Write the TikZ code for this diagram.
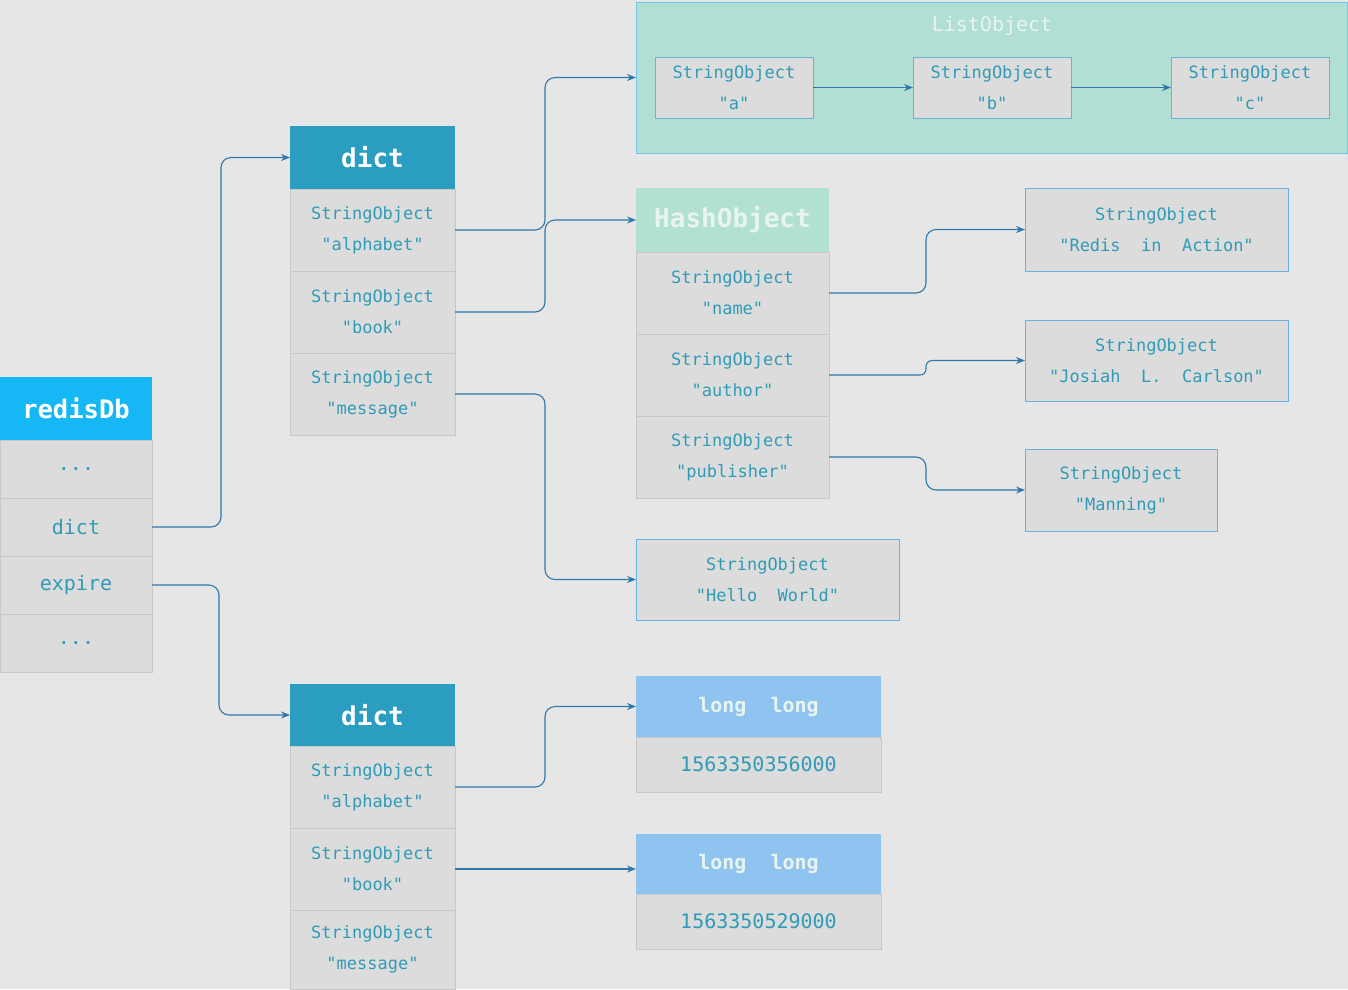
\documentclass[tikz,border=0pt]{standalone}
\usepackage{fontspec}
\newfontfamily\monof{DejaVu Sans Mono}
\usetikzlibrary{positioning,arrows.meta}
\definecolor{bgc}{RGB}{230,230,230}
\definecolor{cellfill}{RGB}{220,220,220}
\definecolor{cellline}{RGB}{200,200,200}
\definecolor{objline}{RGB}{104,178,226}
\definecolor{ink}{RGB}{48,155,182}
\definecolor{linkc}{RGB}{47,120,170}
\definecolor{dbhead}{RGB}{22,183,245}
\definecolor{dicthead}{RGB}{42,157,192}
\definecolor{hashhead}{RGB}{178,225,211}
\definecolor{listfill}{RGB}{178,223,212}
\definecolor{listline}{RGB}{112,200,228}
\definecolor{longhead}{RGB}{143,196,240}
\definecolor{paleink}{RGB}{232,244,240}

\begin{document}
\begin{tikzpicture}[x=1pt, y=-1pt,
		cell/.style={rectangle, draw=cellline, line width=0.8pt, fill=cellfill, text=ink, inner sep=0pt, outer sep=0pt, minimum width=165pt, minimum height=82pt, align=center, font=\monof\fontsize{17}{31}\selectfont},
		dbcell/.style={cell, minimum width=152pt, minimum height=58pt, font=\monof\fontsize{20}{24}\selectfont},
		header/.style={rectangle, draw=none, text=white, inner sep=0pt, outer sep=0pt, minimum width=165pt, minimum height=63pt, font=\monof\bfseries\fontsize{26}{30}\selectfont},
		sobj/.style={cell, draw=objline, minimum width=263pt, minimum height=82pt},
		longhdr/.style={header, fill=longhead, text=paleink, minimum width=245pt, minimum height=61pt, font=\monof\bfseries\fontsize{20}{24}\selectfont},
		longval/.style={cell, minimum width=245pt, minimum height=55pt, font=\monof\fontsize{20}{24}\selectfont},
		link/.style={draw=linkc, line width=1.1pt, rounded corners=10pt, -{Stealth[length=9pt,width=7pt]}}
	]
	\useasboundingbox (0,0) rectangle (1348,989);
	\fill[bgc] (0,0) rectangle (1348,989);
	% redisDb
	\node[header, fill=dbhead, minimum width=152pt, font=\monof\bfseries\fontsize{25.5}{30}\selectfont, anchor=north west] (rh) at (0,377) {redisDb};
	\node[dbcell] (rdots1) [below=0pt of rh] {...};
	\node[dbcell] (rdict) [below=0pt of rdots1] {dict};
	\node[dbcell] (rexp) [below=0pt of rdict] {expire};
	\node[dbcell] (rdots2) [below=0pt of rexp] {...};
	% dict (keyspace)
	\node[header, fill=dicthead, anchor=north west] (d1h) at (290,126) {dict};
	\node[cell] (d1a) [below=0pt of d1h] {StringObject\\"alphabet"};
	\node[cell] (d1b) [below=0pt of d1a] {StringObject\\"book"};
	\node[cell] (d1m) [below=0pt of d1b] {StringObject\\"message"};
	% dict (expires)
	\node[header, fill=dicthead, minimum height=62pt, anchor=north west] (d2h) at (290,684) {dict};
	\node[cell] (d2a) [below=0pt of d2h] {StringObject\\"alphabet"};
	\node[cell] (d2b) [below=0pt of d2a] {StringObject\\"book"};
	\node[cell, minimum height=79pt] (d2m) [below=0pt of d2b] {StringObject\\"message"};
	% list
	\node[rectangle, draw=listline, line width=1pt, fill=listfill, minimum width=711pt, minimum height=151pt, inner sep=0pt, outer sep=0pt, anchor=north west] (lst) at (636,2) {};
	\node[text=paleink, font=\monof\fontsize{20}{24}\selectfont] (lsttitle) at (992,26) {ListObject};
	\node[sobj, minimum width=158pt, minimum height=61pt, anchor=north west] (la) at (655,57) {StringObject\\"a"};
	\node[sobj, minimum width=158pt, minimum height=61pt, anchor=north west] (lb) at (913,57) {StringObject\\"b"};
	\node[sobj, minimum width=158pt, minimum height=61pt, anchor=north west] (lc) at (1171,57) {StringObject\\"c"};
	% hash
	\node[header, fill=hashhead, text=paleink, minimum width=193pt, minimum height=64pt, anchor=north west] (hh) at (636,188) {HashObject};
	\node[cell, minimum width=193pt] (hn) [below=0pt of hh] {StringObject\\"name"};
	\node[cell, minimum width=193pt] (ha) [below=0pt of hn] {StringObject\\"author"};
	\node[cell, minimum width=193pt] (hp) [below=0pt of ha] {StringObject\\"publisher"};
	% strings
	\node[sobj, minimum height=83pt, anchor=north west] (redis) at (1025,188) {StringObject\\"Redis~~in~~Action"};
	\node[sobj, minimum height=81pt, anchor=north west] (josiah) at (1025,320) {StringObject\\"Josiah~~L.~~Carlson"};
	\node[sobj, minimum width=192pt, anchor=north west] (manning) at (1025,449) {StringObject\\"Manning"};
	\node[sobj, minimum height=81pt, anchor=north west] (hello) at (636,539) {StringObject\\"Hello~~World"};
	% long long
	\node[longhdr, anchor=north west] (l1h) at (636,676) {long~~long};
	\node[longval] (l1v) [below=0pt of l1h] {1563350356000};
	\node[longhdr, minimum height=60pt, anchor=north west] (l2h) at (636,834) {long~~long};
	\node[longval] (l2v) [below=0pt of l2h] {1563350529000};
	\begin{scope}[link]
	\draw (rdict.east) -- ++(69,0) |- (d1h.west);
	\draw (rexp.east) -- ++(67,0) |- (d2h.west);
	\draw (d1a.east) -- ++(90,0) |- (lst.west);
	\draw (d1b.east) -- ++(90,0) |- (hh.west);
	\draw (d1m.east) -- ++(90,0) |- (hello.west);
	\draw (hn.east) -- ++(97,0) |- (redis.west);
	\draw[rounded corners=6pt] (ha.east) -- ++(97,0) |- (josiah.west);
	\draw (hp.east) -- ++(97,0) |- (manning.west);
	\draw (la.east) -- (lb.west);
	\draw (lb.east) -- (lc.west);
	\draw (d2a.east) -- ++(90,0) |- (l1h.west);
	\draw (d2b.east) -- (d2b.east -| l2h.west);
	\end{scope}
\end{tikzpicture}
\end{document}
